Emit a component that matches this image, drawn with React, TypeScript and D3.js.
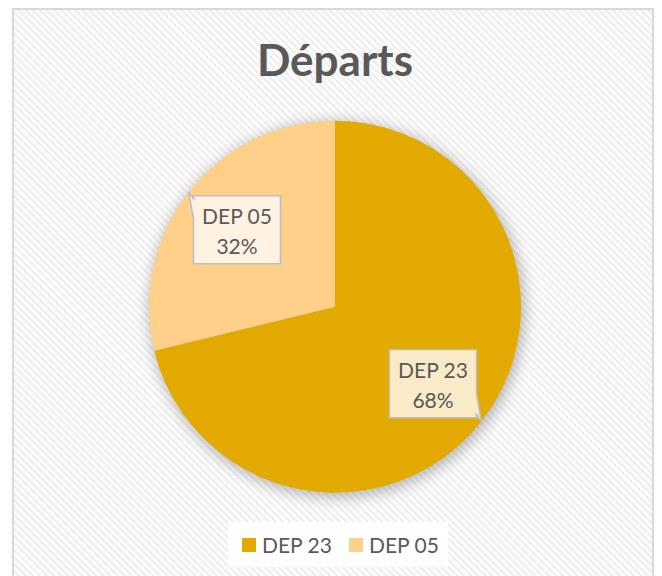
import React from "react";
import * as d3 from "d3";

const title = "Départs";
const categories = ["DEP 23", "DEP 05"];
// slice sizes as drawn in the picture
const values = [71.2, 28.8];
// percentages printed on the data labels
const labelPercents = ["68%", "32%"];
const colors = ["#E2AA00", "#FFD08A"];
const labelFills = ["#FAEBC8", "#FFF2E2"];

const W = 662;
const H = 576;
const FONT = "Lato, 'Open Sans', sans-serif";

function calloutPath(
  cx: number,
  cy: number,
  w: number,
  h: number,
  tx: number,
  ty: number
) {
  const l = cx - w / 2,
    r = cx + w / 2,
    t = cy - h / 2,
    b = cy + h / 2;
  const left = tx < cx;
  const up = ty < cy;
  const b1 = 3;
  const b2 = h * 0.36;
  if (left && up) {
    return `M${l},${t} L${r},${t} L${r},${b} L${l},${b} L${l},${t + b2} L${tx},${ty} L${l},${t + b1} Z`;
  }
  if (left && !up) {
    return `M${l},${t} L${r},${t} L${r},${b} L${l},${b} L${l},${b - b1} L${tx},${ty} L${l},${b - b2} Z`;
  }
  if (!left && up) {
    return `M${l},${t} L${r},${t} L${r},${t + b1} L${tx},${ty} L${r},${t + b2} L${r},${b} L${l},${b} Z`;
  }
  return `M${l},${t} L${r},${t} L${r},${b - b2} L${tx},${ty} L${r},${b - b1} L${r},${b} L${l},${b} Z`;
}

export default function App() {
  const cx = 335;
  const cy = 306.7;
  const R = 186;

  const pie = d3
    .pie<number>()
    .sort(null)
    .value((d) => d)
    .startAngle(0)
    .endAngle(2 * Math.PI);
  const arcs = pie(values);
  const arc = d3.arc<d3.PieArcDatum<number>>().innerRadius(0).outerRadius(R);
  const labelArc = d3
    .arc<d3.PieArcDatum<number>>()
    .innerRadius(R * 0.67)
    .outerRadius(R * 0.67);
  const edgeArc = d3.arc<d3.PieArcDatum<number>>().innerRadius(R).outerRadius(R);

  const boxW = 87;
  const boxH = 68;

  // legend layout
  const legendY = 545;
  const sq = 14;
  const itemWidths = [100, 100];
  const legendStart = 242;
  const legendX: number[] = [];
  let acc = legendStart;
  itemWidths.forEach((w) => {
    legendX.push(acc);
    acc += w + 7;
  });

  return (
    <div style={{ position: "fixed", left: 0, top: 0 }}>
      <svg width={W} height={H} style={{ display: "block" }}>
        <defs>
          <pattern
            id="hatch"
            width="5"
            height="5"
            patternUnits="userSpaceOnUse"
            patternTransform="rotate(-45)"
          >
            <rect width="5" height="5" fill="#FDFDFD" />
            <rect width="2.2" height="5" fill="#EEEEEE" />
          </pattern>
          <filter id="shadow" x="-30%" y="-30%" width="160%" height="160%">
            <feGaussianBlur stdDeviation="7" />
          </filter>
        </defs>
        <rect x={0} y={0} width={W} height={H} fill="#FFFFFF" />
        <rect
          x={13}
          y={9}
          width={640}
          height={H + 10}
          fill="url(#hatch)"
          stroke="#D9D9D9"
          strokeWidth={2}
        />
        <text
          x={cx}
          y={76}
          textAnchor="middle"
          fontFamily={FONT}
          fontWeight={700}
          fontSize={44}
          fill="#595959"
        >
          {title}
        </text>

        <circle
          cx={cx + 2}
          cy={cy + 3}
          r={R + 2}
          fill="#000"
          opacity={0.26}
          filter="url(#shadow)"
        />
        <g transform={`translate(${cx},${cy})`}>
          {arcs.map((a, i) => (
            <path key={categories[i]} d={arc(a) || ""} fill={colors[i]} />
          ))}
          {arcs.map((a, i) => {
            const [lx, ly] = labelArc.centroid(a);
            const [tx, ty] = edgeArc.centroid(a);
            return (
              <g key={"lab" + i}>
                <path
                  d={calloutPath(lx, ly, boxW, boxH, tx, ty)}
                  fill={labelFills[i]}
                  stroke="#BFBFBF"
                  strokeWidth={1.6}
                  strokeLinejoin="miter"
                />
                <text
                  x={lx}
                  y={ly - 6}
                  textAnchor="middle"
                  fontFamily={FONT}
                  fontSize={21}
                  fill="#595959"
                >
                  {categories[i]}
                </text>
                <text
                  x={lx}
                  y={ly + 24}
                  textAnchor="middle"
                  fontFamily={FONT}
                  fontSize={21}
                  fill="#595959"
                >
                  {labelPercents[i]}
                </text>
              </g>
            );
          })}
        </g>

        <rect x={228} y={522} width={220} height={45} fill="#FFFFFF" opacity={0.9} />
        {categories.map((c, i) => (
          <g key={"leg" + i}>
            <rect
              x={legendX[i]}
              y={legendY - sq / 2}
              width={sq}
              height={sq}
              fill={colors[i]}
            />
            <text
              x={legendX[i] + sq + 6}
              y={legendY + 7.5}
              fontFamily={FONT}
              fontSize={21}
              fill="#595959"
            >
              {c}
            </text>
          </g>
        ))}
      </svg>
    </div>
  );
}
